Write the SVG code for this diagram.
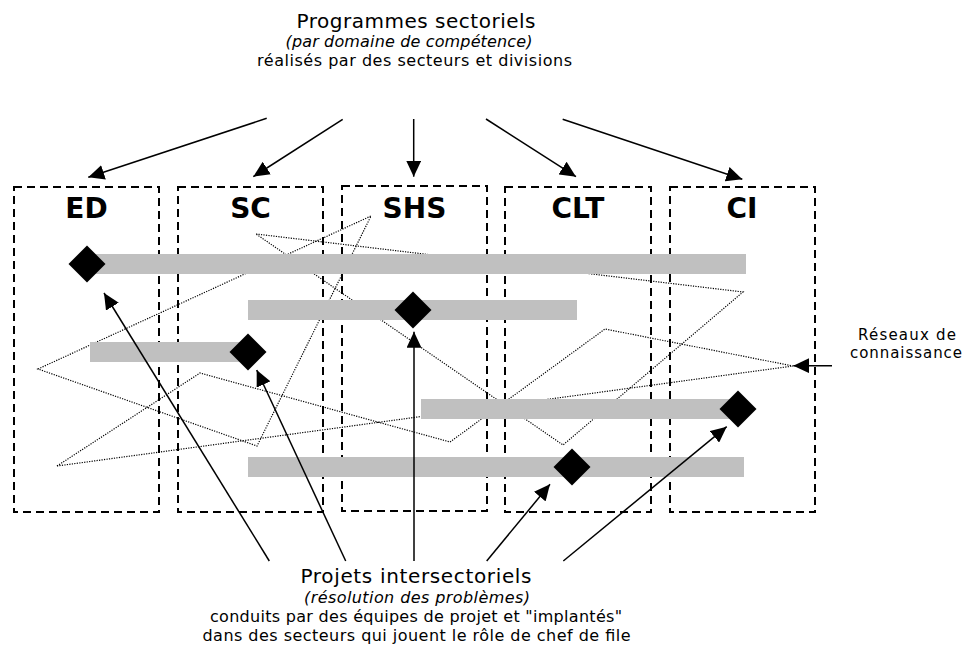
<svg xmlns="http://www.w3.org/2000/svg" width="964" height="649" viewBox="0 0 964 649">
<style>
.box{fill:none;stroke:#000;stroke-width:2;stroke-dasharray:8 5}
.lbl{font-family:"DejaVu Sans",Verdana,sans-serif;font-weight:bold;font-size:28px;text-anchor:middle;fill:#000}
.t{font-family:"DejaVu Sans",Verdana,sans-serif;text-anchor:middle;fill:#000}
.it{font-style:italic}
.bar{fill:#c0c0c0}
.dia{fill:#000}
.arr{fill:none;stroke:#000;stroke-width:1.5;marker-end:url(#ah)}
.dot{fill:none;stroke:#000;stroke-width:1.2;stroke-dasharray:1.2 1.3}
</style>
<defs>
<marker id="ah" markerUnits="userSpaceOnUse" markerWidth="17" markerHeight="15" refX="16" refY="7.5" orient="auto">
<path d="M0,0 L16,7.5 L0,15 z" fill="#000"/>
</marker>
</defs>
<rect width="964" height="649" fill="#fff"/>

<g id="titre-programmes">
<text class="t" x="416" y="28" font-size="20" textLength="239" lengthAdjust="spacing">Programmes sectoriels</text>
<text class="t it" x="409" y="47" font-size="16" textLength="247" lengthAdjust="spacing">(par domaine de compétence)</text>
<text class="t" x="414.5" y="66" font-size="16" textLength="315" lengthAdjust="spacing">réalisés par des secteurs et divisions</text>
</g>

<g id="secteur-ED"><rect class="box" x="14" y="187" width="145" height="325"/><text class="lbl" x="86.5" y="218">ED</text></g>
<g id="secteur-SC"><rect class="box" x="178" y="187" width="145" height="325"/><text class="lbl" x="250.5" y="218">SC</text></g>
<g id="secteur-SHS"><rect class="box" x="342" y="186" width="145" height="325"/><text class="lbl" x="414.5" y="218">SHS</text></g>
<g id="secteur-CLT"><rect class="box" x="505" y="187" width="146" height="325"/><text class="lbl" x="578" y="218">CLT</text></g>
<g id="secteur-CI"><rect class="box" x="670" y="187" width="145" height="325"/><text class="lbl" x="742" y="218">CI</text></g>

<g id="reseaux">
<path class="dot" d="M38,369 L371,216 L257,446 Z"/>
<path class="dot" d="M256,234 L743,292 L563,445 Z"/>
<path class="dot" d="M57,466 L200,373 L450,442 L605,329 L793,366 Z"/>
</g>

<g id="projet-1"><rect class="bar" x="87" y="254" width="659" height="20"/><polygon class="dia" points="87,245.5 105.5,264 87,282.5 68.5,264"/></g>
<g id="projet-2"><rect class="bar" x="248" y="300" width="329" height="20"/><polygon class="dia" points="413,291.5 431.5,310 413,328.5 394.5,310"/></g>
<g id="projet-3"><rect class="bar" x="90" y="342" width="158" height="20"/><polygon class="dia" points="248,333.5 266.5,352 248,370.5 229.5,352"/></g>
<g id="projet-4"><rect class="bar" x="421" y="399" width="317" height="20"/><polygon class="dia" points="738,390.5 756.5,409 738,427.5 719.5,409"/></g>
<g id="projet-5"><rect class="bar" x="248" y="457" width="496" height="20"/><polygon class="dia" points="572,448.5 590.5,467 572,485.5 553.5,467"/></g>

<g id="connecteurs">
<line class="arr" x1="266.7" y1="118.3" x2="88.3" y2="177.3"/>
<line class="arr" x1="342.7" y1="119.3" x2="253.3" y2="176.7"/>
<line class="arr" x1="413.7" y1="119" x2="413.7" y2="176.7"/>
<line class="arr" x1="486" y1="119" x2="576" y2="176.7"/>
<line class="arr" x1="562.7" y1="119.3" x2="742.3" y2="179.3"/>
<line class="arr" x1="269.3" y1="561" x2="104" y2="293"/>
<line class="arr" x1="345.7" y1="561" x2="256.7" y2="370"/>
<line class="arr" x1="414" y1="561" x2="414" y2="331.7"/>
<line class="arr" x1="486.7" y1="561" x2="550" y2="484.3"/>
<line class="arr" x1="563.3" y1="561" x2="726.7" y2="426.7"/>
<line class="arr" x1="832" y1="365.7" x2="793.3" y2="365.7"/>
</g>

<g id="label-reseaux">
<text class="t" x="907" y="340" font-size="15" textLength="98" lengthAdjust="spacing">Réseaux de</text>
<text class="t" x="906" y="357.5" font-size="15" textLength="112" lengthAdjust="spacing">connaissance</text>
</g>

<g id="titre-projets">
<text class="t" x="416" y="583" font-size="20" textLength="231" lengthAdjust="spacing">Projets intersectoriels</text>
<text class="t it" x="417" y="603" font-size="16" textLength="226" lengthAdjust="spacing">(résolution des problèmes)</text>
<text class="t" x="416" y="622" font-size="16" textLength="412" lengthAdjust="spacing">conduits par des équipes de projet et "implantés"</text>
<text class="t" x="416.5" y="641" font-size="16" textLength="428" lengthAdjust="spacing">dans des secteurs qui jouent le rôle de chef de file</text>
</g>
</svg>
